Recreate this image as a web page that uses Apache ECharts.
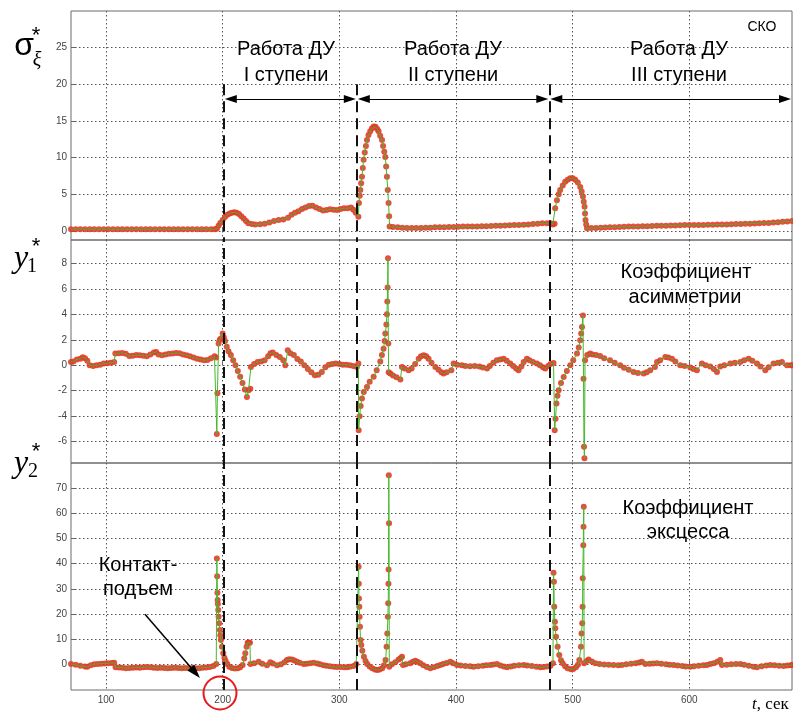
<!DOCTYPE html>
<html><head><meta charset="utf-8">
<script src="https://cdn.jsdelivr.net/npm/echarts@6/dist/echarts.min.js"></script>
<style>html,body{margin:0;padding:0;background:#fff}#c{width:793px;height:715px}</style>
</head><body><div id="c"></div>
<script>
// ---------------- data ----------------
const xTicks = [100, 200, 300, 400, 500, 600];
const skoTicks = [0, 5, 10, 15, 20, 25];
const asymTicks = [-6, -4, -2, 0, 2, 4, 6, 8];
const kurtTicks = [0, 10, 20, 30, 40, 50, 60, 70];
const stageBounds = [201, 315, 480];
const stageTitles = [['Работа ДУ', 'I ступени'], ['Работа ДУ', 'II ступени'], ['Работа ДУ', 'III ступени']];

const sko = [
[70,0.25],[74,0.25],[78,0.25],[82,0.25],[86,0.25],[90,0.25],[94,0.25],[98,0.25],[102,0.25],[106,0.25],[110,0.25],[114,0.25],[118,0.25],[122,0.25],[126,0.25],[130,0.25],[134,0.25],[138,0.25],[142,0.25],[146,0.25],[150,0.25],[154,0.25],[158,0.25],[162,0.25],[166,0.25],[170,0.25],[174,0.25],[178,0.25],[182,0.25],[186,0.25],[190,0.25],[193,0.25],
[195,0.3],[196.5,0.7],[198,1.1],[200,1.5],[202,1.9],[204,2.2],[206,2.4],[208,2.5],[210,2.55],[212,2.5],[214,2.3],[216,2.0],[218,1.7],[220,1.35],[222,1.05],[225,0.95],[228,0.9],[232,0.92],[236,1.0],[240,1.15],[244,1.35],[248,1.5],[252,1.55],[256,1.8],[259,2.2],[262,2.5],[265,2.7],[268,3.0],[271,3.2],[274,3.4],[277,3.45],[280,3.2],[283,3.0],[286,2.8],[289,2.85],[292,2.95],[295,2.9],[298,2.85],[301,3.0],[304,3.1],[307,3.1],[310,3.2],[312,2.9],[314,2.5],[316.3,1.95],
[316.8,3.8],[317.5,4.8],[318,5.6],[318.7,6.5],[319.4,7.4],[320.1,8.6],[320.8,9.7],[321.8,10.7],[322.8,11.6],[323.7,12.4],[325,13.1],[326.5,13.6],[328,14.0],[329.5,14.25],[331,14.2],[332.5,13.9],[333.6,13.6],[335,13.0],[336.6,12.4],[337.5,11.6],[338.5,10.8],[339.4,10.1],[340.1,8.8],[340.8,7.4],[341.5,5.6],[342.2,3.8],[342.7,2.0],[343.1,0.6],
[346,0.55],[350,0.5],[354,0.45],[358,0.4],[362,0.4],[366,0.4],[370,0.42],[374,0.45],[378,0.45],[382,0.5],[386,0.5],[390,0.52],[394,0.55],[398,0.55],[402,0.58],[406,0.6],[410,0.6],[414,0.62],[418,0.62],[422,0.65],[426,0.65],[430,0.68],[434,0.7],[438,0.72],[442,0.75],[446,0.78],[450,0.8],[454,0.82],[458,0.85],[462,0.9],[466,0.95],[470,1.0],[474,1.05],[478,1.05],[481,1.05],[483,0.9],[484.5,1.0],
[485,3.1],[486.5,4.2],[488,5.0],[489.3,5.6],[491.5,6.2],[493.6,6.7],[495.8,7.0],[497.9,7.2],[500,7.2],[502.2,7.0],[504.4,6.6],[506.5,6.0],[507.7,5.4],[508.8,4.7],[509.5,4.0],[510.2,3.3],[510.6,2.4],[511,1.5],[511.6,0.9],[512.3,0.37],
[516,0.4],[520,0.42],[524,0.45],[528,0.48],[532,0.5],[536,0.52],[540,0.55],[544,0.58],[548,0.6],[552,0.6],[556,0.62],[560,0.65],[564,0.65],[568,0.68],[572,0.7],[576,0.72],[580,0.72],[584,0.75],[588,0.75],[592,0.78],[596,0.8],[600,0.8],[604,0.8],[608,0.82],[612,0.82],[616,0.85],[620,0.85],[624,0.88],[628,0.9],[632,0.9],[636,0.92],[640,0.95],[644,0.95],[648,0.98],[652,1.0],[656,1.02],[660,1.05],[664,1.08],[668,1.1],[672,1.15],[676,1.2],[680,1.25],[684,1.3],[688,1.35]
];

const asym = [
[70,0.26],[72,0.3],[75,0.45],[78,0.52],[80,0.62],[82,0.55],[84,0.35],[86,0.0],[89,-0.05],[92,0.0],[95,0.05],[98,0.13],[101,0.15],[104,0.2],[107,0.26],[108,0.92],[111,0.95],[114,0.97],[117,0.9],[120,0.72],[123,0.75],[126,0.8],[129,0.78],[132,0.75],[135,0.71],[138,0.85],[141,1.0],[143,1.05],[145,0.85],[148,0.78],[151,0.85],[154,0.9],[157,0.92],[160,0.97],[163,0.95],[166,0.85],[169,0.78],[172,0.7],[175,0.6],[178,0.52],[181,0.45],[184,0.39],[187,0.42],[190,0.55],[193,0.7],[194.5,0.6],
[195,-5.4],[195.5,-2.2],[196.5,1.7],[197.5,2.0],[198.5,2.1],[200,2.5],[201,2.2],[202,1.9],[203.5,1.45],[205,1.1],[207,0.8],[209,0.4],[211,0.0],[213,-0.45],[215,-0.9],[217,-1.4],[219,-1.9],[220.8,-2.5],[222.2,-1.96],[223.7,-1.85],[224.2,-0.13],[227,0.1],[230,0.26],[233,0.3],[236,0.4],[239,0.7],[241,0.95],[243,1.0],[246,0.8],[249,0.65],[252,0.4],[253.7,0.0],[255.8,1.18],[258,0.95],[261,0.8],[264,0.5],[267,0.3],[270,0.0],[273,-0.3],[276,-0.55],[279,-0.78],[282,-0.75],[285,-0.52],[288,-0.15],[291,0.05],[294,0.1],[297,0.13],[300,0.1],[303,0.05],[306,0.05],[309,0.0],[312,-0.05],[315,-0.13],[316.3,0.13],
[316.6,-5.1],[317.4,-4.0],[318.3,-3.2],[319.4,-2.6],[321,-2.1],[323.7,-1.7],[326,-1.3],[329.4,-0.9],[332,-0.4],[335.1,0.3],[336.5,0.8],[337.9,1.3],[338.8,1.9],[339.4,2.5],[340.3,3.2],[340.8,4.0],[341.1,5.0],[341.4,6.1],[341.7,8.4],[342.0,1.7],[342.3,-0.55],[343.7,-0.65],[346,-0.8],[349,-0.95],[352.3,-1.12],[353.7,-0.13],[356,-0.25],[359.4,-0.39],[362,-0.25],[365,0.1],[368,0.52],[370,0.7],[372.3,0.78],[374.5,0.7],[376.5,0.52],[379,0.2],[382.3,-0.13],[385,-0.35],[387.5,-0.55],[389.4,-0.65],[392,-0.55],[396,-0.39],[398,0.13],[401,0.05],[405,0.0],[408,-0.05],[412,-0.08],[416,-0.05],[420,-0.1],[423,-0.18],[426.6,-0.26],[429,-0.05],[432,0.2],[435,0.39],[438,0.45],[440.8,0.52],[443.5,0.35],[446.5,0.13],[449,-0.05],[451.5,-0.25],[453.6,-0.39],[456,-0.1],[458,0.25],[460.8,0.52],[463,0.4],[466,0.25],[469.4,0.13],[472,0.0],[474.5,-0.15],[476.5,-0.26],[479,-0.05],[481,0.1],[483.6,0.18],
[484.6,-5.1],[485.3,-4.2],[486.1,-3.0],[487,-2.4],[488,-1.96],[490,-1.4],[492.3,-0.92],[495,-0.45],[498,0.0],[500.5,0.4],[503.7,0.92],[505.2,1.4],[506.5,1.96],[507.3,2.5],[508,3.0],[508.8,3.9],[509.3,-1.05],[509.7,-6.4],[510.1,-7.3],[510.6,0.39],[512.5,0.8],[514.9,0.92],[517,0.85],[520,0.8],[523.5,0.72],[527,0.55],[532,0.39],[536,0.2],[540.7,0.0],[544,-0.2],[548,-0.35],[552.2,-0.52],[556,-0.6],[560.8,-0.65],[563.5,-0.55],[566.5,-0.39],[570.5,-0.13],[572.3,0.26],[575,0.4],[579.4,0.65],[582,0.6],[585.1,0.52],[588,0.3],[592.2,0.0],[596,-0.05],[600.8,-0.18],[603.5,-0.3],[606.5,-0.39],[610.8,0.13],[614,0.0],[617.9,-0.1],[621,-0.3],[623.7,-0.52],[626.5,-0.1],[630,0.0],[635.1,0.13],[639,0.2],[643.7,0.26],[647,0.4],[650.8,0.52],[654,0.35],[658,0.13],[661,-0.1],[665.1,-0.39],[668,-0.15],[672.2,0.13],[676,0.2],[679.4,0.26],[683.7,0.0],[687,0.0],[688,0.0]
];

const kurt = [
[70,0.3],[74,0.0],[78,-0.4],[82,-0.7],[84,-0.8],[87,-0.2],[90,0.2],[93,0.3],[96,0.4],[99,0.5],[102,0.6],[105,0.7],[107,0.8],[108.2,-1.0],[111,-1.1],[114,-1.2],[117,-1.4],[120,-1.3],[123,-1.2],[126,-1.1],[129,-1.2],[132,-1.0],[135,-0.9],[138,-1.0],[141,-1.2],[144,-1.3],[147,-1.2],[150,-1.3],[153,-1.4],[156,-1.3],[159,-1.2],[162,-1.3],[165,-1.4],[168,-1.3],[171,-1.4],[174,-1.3],[177,-1.4],[180,-1.4],[183,-1.2],[186,-1.1],[189,-0.9],[192,-0.5],[194.5,0.3],
[195,42],[195.3,35],[195.5,28.5],[195.7,25.6],[195.9,24],[196.2,21.6],[196.5,19],[197,16.4],[197.6,13.7],[198,11.7],[198.5,9.8],[199.4,7.1],[200.5,4.5],[201.5,2.8],[202.5,1.6],[204,0.3],[205.7,-0.8],[208,-1.3],[210.5,-1.45],[213,-1.4],[215,-1.0],[217.1,-0.1],[218.5,2.5],[219.4,4.5],[220.5,7.1],[221.4,8.7],[222.4,8.8],[223.4,8.7],[223.8,0.3],[227,0.6],[230.8,1.2],[234,0.4],[238,-0.2],[240.8,1.0],[243,0.5],[246.6,-0.2],[250,0.2],[253,1.0],[255.1,1.9],[257,2.2],[259.4,2.1],[261.5,1.7],[263.7,1.2],[266,0.8],[269.4,0.3],[272,0.4],[275,0.6],[278,0.8],[281,0.5],[283.5,0.2],[286.5,-0.2],[289,-0.4],[292,-0.6],[295.1,-0.8],[298,-0.9],[301,-0.9],[304,-1.0],[306.5,-1.0],[309,-0.8],[312.2,-0.5],[314.5,0.3],
[316.5,38.8],[316.7,32],[316.8,26.2],[317.1,22.9],[317.4,19],[317.7,15],[318.2,9.8],[318.8,7.8],[319.7,5.5],[321.1,3.2],[322.5,1.5],[323.9,0.3],[326,-0.7],[328.2,-1.4],[330.5,-1.9],[332.5,-2.1],[334.5,-1.9],[336.8,-1.4],[338.3,-0.2],[339.6,1.9],[340.5,7.1],[341.1,12.4],[341.6,19],[341.9,24.3],[342.1,32],[342.2,37.7],[342.4,75],[342.6,56],[342.8,-0.8],[345,0.2],[348,1.0],[350.8,2.1],[352.5,2.6],[353.7,3.2],[354.6,-0.1],[357,0.2],[360.8,0.55],[363,1.2],[365.1,1.6],[367,1.2],[369.4,0.55],[372,-0.2],[375,-0.9],[378,-1.4],[381,-1.0],[384,-0.5],[386.6,-0.1],[389,0.3],[392,0.7],[395.1,1.2],[397.5,0.6],[400.8,-0.1],[404,-0.3],[408,-0.5],[412,-0.6],[415.1,-0.8],[419,-0.6],[423,-0.4],[426,-0.2],[429.4,-0.1],[432,0.1],[435.1,0.3],[438,-0.3],[441,-0.7],[443.7,-1.0],[447,-0.7],[450,-0.4],[454,-0.2],[458,-0.1],[461,-0.3],[465,-0.5],[469,-0.8],[472.3,-1.0],[475,-0.9],[478,-0.7],[480.8,-0.5],[483.1,0.55],
[483.6,36.4],[483.9,32.8],[484.2,22.9],[484.8,17],[485.1,14.4],[485.7,11.1],[487.1,7.1],[488.5,3.8],[490,1.8],[491.4,0.55],[493.5,-0.6],[495.7,-1.4],[498.5,-1.8],[500.5,-1.7],[502.8,-1.0],[504.5,0.0],[505.7,1.9],[507.1,7.1],[507.6,12.4],[508.2,16.4],[508.5,22.9],[508.6,34.2],[509.1,47.3],[509.3,54.6],[509.5,62.5],[509.8,0.55],[512,1.5],[513.7,2.1],[516.5,1.3],[519.4,0.55],[523,0.3],[527,0.1],[531,0.0],[535,-0.1],[539,-0.2],[542.2,-0.1],[546,0.2],[550,0.4],[554,0.6],[557,0.9],[559.4,1.2],[562.3,0.3],[566,0.4],[569,0.5],[572.3,0.55],[576,0.4],[580,0.2],[583,0.0],[586.5,-0.1],[590,-0.3],[594,-0.5],[597,-0.7],[600.8,-0.8],[604,-0.6],[608,-0.4],[612,-0.2],[615.1,-0.1],[618,0.3],[621,0.6],[624,1.2],[626.5,1.9],[628,-0.1],[632,0.0],[636,0.2],[640,0.3],[643.7,0.3],[647,0.0],[651,-0.4],[655,-0.8],[658,-1.0],[662,-0.6],[666,-0.3],[669.4,-0.1],[673,-0.2],[677,-0.4],[680.8,-0.5],[684,-0.3],[687,-0.2],[688,-0.1]
];

// ---------------- layout / style ----------------
const X_MIN = 70, X_MAX = 688;
const yRanges = [[-1.23, 30], [-7.67, 9.83], [-10, 79.8]];
const yTickSets = [skoTicks, asymTicks, kurtTicks];
const seriesData = [sko, asym, kurt];
const gridBoxes = [
  { left: 71, right: 1, top: 11, height: 229 },
  { left: 71, right: 1, top: 240, height: 223 },
  { left: 71, right: 1, top: 463, height: 227 }
];
const SANS = '"Liberation Sans", Arial, sans-serif';
const SERIF = '"Liberation Serif", "Times New Roman", serif';
const RED = '#e63a2a', GREEN = '#45b82a';
const gridLine = { color: '#555', width: 1, type: [1.5, 2.5] };
const ARROW_LEVEL = 18, ARROW_TOP = 20, ARROW_INSET = 6;

const chart = echarts.init(document.getElementById('c'), null, { renderer: 'canvas' });

const grid = gridBoxes.map(g => Object.assign({ show: true, borderColor: '#6a6a6a', borderWidth: 1, backgroundColor: 'transparent' }, g));

const xAxis = gridBoxes.map((g, i) => ({
  gridIndex: i, type: 'value', min: X_MIN, max: X_MAX,
  axisLine: { show: false },
  axisTick: { show: true, inside: true, length: 4, customValues: xTicks, lineStyle: { color: '#666' } },
  axisLabel: { show: i === 2, customValues: xTicks, fontSize: 10, color: '#444', fontFamily: SANS, margin: 5 },
  splitLine: { show: true, lineStyle: gridLine }
}));

const yAxis = gridBoxes.map((g, i) => ({
  gridIndex: i, type: 'value', min: yRanges[i][0], max: yRanges[i][1],
  axisLine: { show: false },
  axisTick: { show: true, inside: true, length: 4, customValues: yTickSets[i], lineStyle: { color: '#666' } },
  axisLabel: { customValues: yTickSets[i], fontSize: 10, color: '#444', fontFamily: SANS, margin: 4 },
  splitLine: { show: true, lineStyle: gridLine }
}));

const dashStyle = { color: '#111', width: 2, type: [11, 6] };

function dashedMarks(i) {
  if (i === 0) {
    return stageBounds.map(b => [{ coord: [b, ARROW_TOP] }, { coord: [b, yRanges[0][0]] }]);
  }
  return stageBounds.map(b => ({ xAxis: b }));
}

const ends = stageBounds.concat([X_MAX]);
const arrowMarks = [];
for (let k = 0; k < 3; k++) {
  arrowMarks.push([{ coord: [ends[k] + ARROW_INSET, ARROW_LEVEL] }, { coord: [ends[k + 1] - ARROW_INSET, ARROW_LEVEL] }]);
}

const series = [];
seriesData.forEach((d, i) => {
  series.push({
    type: 'line', xAxisIndex: i, yAxisIndex: i, data: d,
    symbol: 'circle', symbolSize: 6, showSymbol: true, showAllSymbol: true,
    itemStyle: { color: RED, opacity: 0.9 }, lineStyle: { width: 0, opacity: 0 },
    silent: true, animation: false, z: 2,
    markLine: {
      silent: true, animation: false, symbol: ['none', 'none'], label: { show: false },
      lineStyle: dashStyle, emphasis: { disabled: true }, data: dashedMarks(i)
    }
  });
  const green = {
    type: 'line', xAxisIndex: i, yAxisIndex: i, data: d,
    symbol: 'none', showSymbol: false,
    lineStyle: { color: GREEN, width: 1 },
    silent: true, animation: false, z: 3
  };
  if (i === 0) {
    green.markLine = {
      silent: true, animation: false, symbol: ['triangle', 'triangle'], symbolSize: [8, 12],
      label: { show: false }, lineStyle: { color: '#000', width: 1, type: 'solid' },
      emphasis: { disabled: true }, data: arrowMarks
    };
  }
  if (i === 2) {
    green.markLine = {
      silent: true, animation: false, symbol: ['none', 'triangle'], symbolSize: [9, 14],
      label: { show: false }, lineStyle: { color: '#000', width: 1.5, type: 'solid' },
      emphasis: { disabled: true }, data: [[{ coord: [133.4, 20.0] }, { coord: [176.6, -3.2] }]]
    };
  }
  series.push(green);
});

function txt(text, x, y, size, opts) {
  return {
    type: 'text', x: x, y: y, silent: true, z: 100,
    style: Object.assign({
      text: text, fill: '#000', font: size + 'px ' + SANS,
      textAlign: 'center', textVerticalAlign: 'middle', verticalAlign: 'middle'
    }, opts || {})
  };
}

const titleCenters = [286, 453, 679];
const graphic = [];
stageTitles.forEach((t, k) => {
  graphic.push(txt(t[0], titleCenters[k], 49, 20));
  graphic.push(txt(t[1], titleCenters[k], 75, 20));
});
graphic.push(txt('СКО', 762, 27, 14));
graphic.push(txt('Коэффициент', 686, 272, 20));
graphic.push(txt('асимметрии', 685, 297, 20));
graphic.push(txt('Коэффициент', 688, 508, 20));
graphic.push(txt('эксцесса', 688, 532, 20));
graphic.push(txt('Контакт-', 138, 565, 20));
graphic.push(txt('подъем', 138, 589, 20));
// axis name symbols
graphic.push(txt('σ', 24, 46, 32, { font: '32px ' + SANS }));
graphic.push(txt('ξ', 37, 61, 20, { font: 'italic 20px ' + SERIF }));
graphic.push(txt('*', 36, 36, 22, { font: '22px ' + SANS }));
graphic.push(txt('y', 21, 259, 32, { font: 'italic 32px ' + SERIF }));
graphic.push(txt('1', 32, 267, 20, { font: '20px ' + SERIF }));
graphic.push(txt('*', 36, 247, 22, { font: '22px ' + SANS }));
graphic.push(txt('y', 21, 464, 32, { font: 'italic 32px ' + SERIF }));
graphic.push(txt('2', 33, 472, 20, { font: '20px ' + SERIF }));
graphic.push(txt('*', 36, 452, 22, { font: '22px ' + SANS }));
graphic.push({
  type: 'text', x: 752, y: 705, silent: true, z: 100,
  style: {
    text: '{i|t}, сек', fill: '#000', font: '17px ' + SERIF, textAlign: 'left',
    textVerticalAlign: 'middle', verticalAlign: 'middle',
    rich: { i: { fontStyle: 'italic', fontSize: 17, fontFamily: SERIF } }
  }
});
graphic.push({
  type: 'circle', shape: { cx: 220, cy: 693, r: 16.5 }, silent: true, z: 100,
  style: { fill: 'none', stroke: '#e8191b', lineWidth: 2 }
});

chart.setOption({
  animation: false,
  backgroundColor: '#fff',
  grid: grid, xAxis: xAxis, yAxis: yAxis, series: series, graphic: graphic
});
</script>
</body></html>
